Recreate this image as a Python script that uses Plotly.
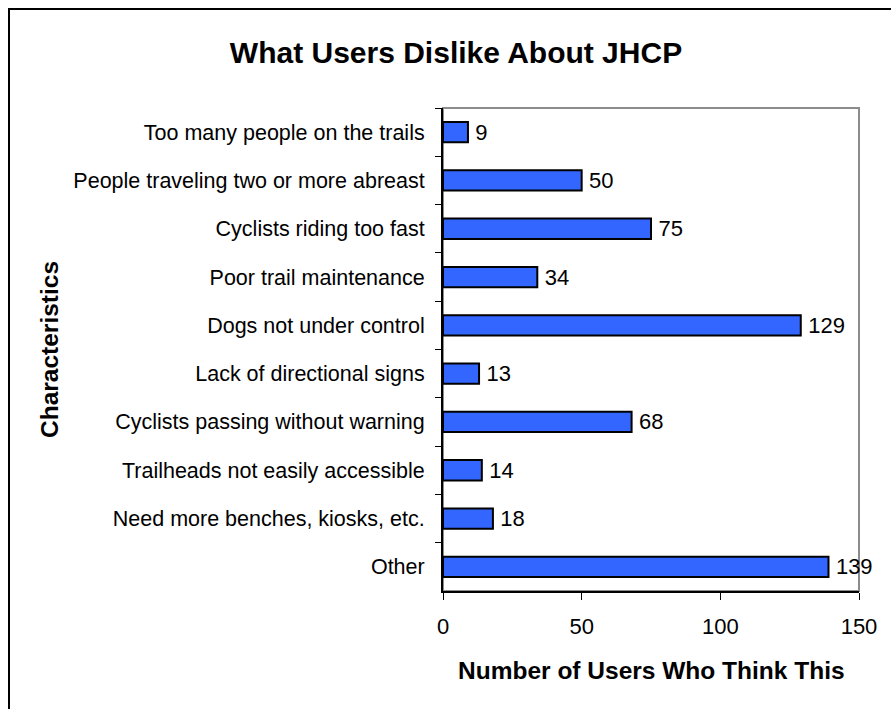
import plotly.graph_objects as go

categories = [
    "Too many people on the trails",
    "People traveling two or more abreast",
    "Cyclists riding too fast",
    "Poor trail maintenance",
    "Dogs not under control",
    "Lack of directional signs",
    "Cyclists passing without warning",
    "Trailheads not easily accessible",
    "Need more benches, kiosks, etc.",
    "Other",
]
values = [9, 50, 75, 34, 129, 13, 68, 14, 18, 139]
x_ticks = [0, 50, 100, 150]

W, H = 891, 709
L, R, T, B = 443, 859, 108, 591

FONT = "Liberation Sans, Arial, sans-serif"

fig = go.Figure(
    go.Bar(
        x=values,
        y=categories,
        orientation="h",
        marker=dict(color="#3366FF", line=dict(color="black", width=2)),
        text=["\u2009" + str(v) for v in values],
        textposition="outside",
        textfont=dict(family=FONT, size=22, color="black"),
        cliponaxis=False,
        constraintext="none",
        hoverinfo="x+y",
    )
)

pw = R - L
ph = B - T

def px_x(p):
    return (p - L) / pw

def px_y(p):
    return (B - p) / ph

fig.update_layout(
    width=W,
    height=H,
    margin=dict(l=L, r=W - R, t=T, b=H - B, pad=0),
    paper_bgcolor="white",
    plot_bgcolor="white",
    bargap=0.58,
    showlegend=False,
    title=dict(
        text="<b>What Users Dislike About JHCP</b>",
        font=dict(family=FONT, size=30, color="black"),
        x=456 / W,
        xanchor="center",
        y=1 - 52 / H,
        yanchor="middle",
    ),
    font=dict(family=FONT, color="black"),
    shapes=[
        dict(
            type="rect", xref="paper", yref="paper",
            x0=0, x1=1, y0=0, y1=1,
            line=dict(color="#8c8c8c", width=2),
            layer="below",
        ),
        dict(
            type="rect", xref="paper", yref="paper",
            x0=px_x(9), x1=px_x(W + 20),
            y0=px_y(H + 20), y1=px_y(9),
            line=dict(color="black", width=2),
            layer="below",
        ),
    ],
    annotations=[
        dict(
            text="<b>Number of Users Who Think This</b>",
            xref="paper", yref="paper",
            x=px_x(651), y=px_y(670),
            xanchor="center", yanchor="middle",
            showarrow=False,
            font=dict(family=FONT, size=24.5, color="black"),
        ),
        dict(
            text="<b>Characteristics</b>",
            xref="paper", yref="paper",
            x=px_x(49), y=px_y(350),
            xanchor="center", yanchor="middle",
            textangle=-90,
            showarrow=False,
            font=dict(family=FONT, size=24.5, color="black"),
        ),
    ],
)

fig.update_xaxes(
    range=[0, 150],
    tickvals=x_ticks,
    ticktext=[str(t) for t in x_ticks],
    ticks="outside",
    ticklen=7,
    tickwidth=1,
    tickcolor="black",
    showline=True,
    linecolor="black",
    linewidth=2,
    showgrid=False,
    zeroline=False,
    tickfont=dict(family=FONT, size=22, color="black"),
    ticklabelstandoff=8,
)

fig.update_yaxes(
    categoryorder="array",
    categoryarray=categories,
    autorange="reversed",
    tickson="boundaries",
    ticks="outside",
    ticklen=6,
    tickwidth=1,
    tickcolor="black",
    showline=True,
    linecolor="black",
    linewidth=2,
    showgrid=False,
    zeroline=False,
    tickfont=dict(family=FONT, size=21.5, color="black"),
    ticklabelstandoff=12,
)

fig.write_html(
    "out.html",
    config={"displayModeBar": False},
    post_script="document.body.style.margin='0';",
)
